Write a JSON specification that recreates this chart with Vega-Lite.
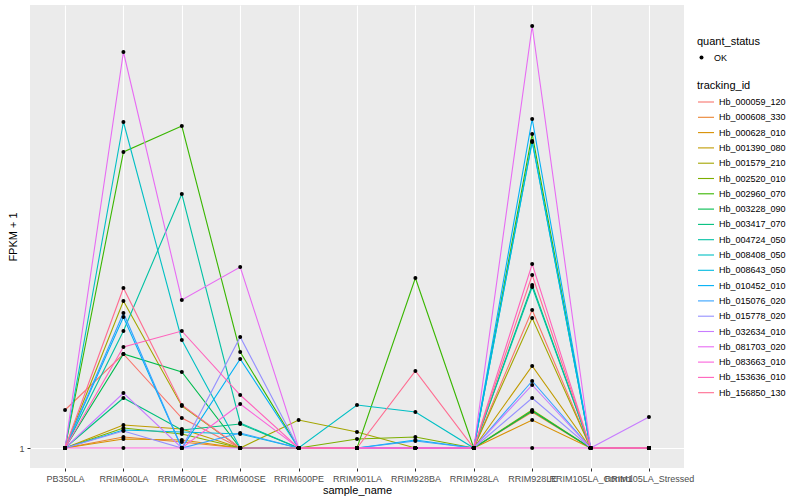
{
"$schema":"https://vega.github.io/schema/vega-lite/v6.json",
"width":654,"height":463,
"autosize":{"type":"none"},
"padding":{"left":30,"top":5,"right":116,"bottom":32},
"config":{
 "view":{"fill":"#EBEBEB","stroke":null},
 "font":"Liberation Sans",
 "axis":{"gridColor":"#FFFFFF","gridWidth":1.1,"domain":false,"tickColor":"#333333","tickSize":3,"labelColor":"#4D4D4D","labelFontSize":9,"titleFontSize":11,"titleFontWeight":"normal","titleColor":"#000000"},
 "legend":{"padding":0,"titleFontSize":11,"titleFontWeight":"normal","titleColor":"#000000","labelFontSize":9,"labelColor":"#000000"}
},
"datasets":{"expr":[
{"tracking_id":"Hb_000059_120","sample_name":"PB350LA","fpkm":1.76,"quant_status":"OK"},
{"tracking_id":"Hb_000059_120","sample_name":"RRIM600LA","fpkm":2.88,"quant_status":"OK"},
{"tracking_id":"Hb_000059_120","sample_name":"RRIM600LE","fpkm":1.6,"quant_status":"OK"},
{"tracking_id":"Hb_000059_120","sample_name":"RRIM600SE","fpkm":1,"quant_status":"OK"},
{"tracking_id":"Hb_000059_120","sample_name":"RRIM600PE","fpkm":1,"quant_status":"OK"},
{"tracking_id":"Hb_000059_120","sample_name":"RRIM901LA","fpkm":1,"quant_status":"OK"},
{"tracking_id":"Hb_000059_120","sample_name":"RRIM928BA","fpkm":1,"quant_status":"OK"},
{"tracking_id":"Hb_000059_120","sample_name":"RRIM928LA","fpkm":1,"quant_status":"OK"},
{"tracking_id":"Hb_000059_120","sample_name":"RRIM928LE","fpkm":3.76,"quant_status":"OK"},
{"tracking_id":"Hb_000059_120","sample_name":"RRIM105LA_Control","fpkm":1,"quant_status":"OK"},
{"tracking_id":"Hb_000059_120","sample_name":"RRIM105LA_Stressed","fpkm":1,"quant_status":"OK"},
{"tracking_id":"Hb_000608_330","sample_name":"PB350LA","fpkm":1,"quant_status":"OK"},
{"tracking_id":"Hb_000608_330","sample_name":"RRIM600LA","fpkm":1.22,"quant_status":"OK"},
{"tracking_id":"Hb_000608_330","sample_name":"RRIM600LE","fpkm":1.12,"quant_status":"OK"},
{"tracking_id":"Hb_000608_330","sample_name":"RRIM600SE","fpkm":1,"quant_status":"OK"},
{"tracking_id":"Hb_000608_330","sample_name":"RRIM600PE","fpkm":1,"quant_status":"OK"},
{"tracking_id":"Hb_000608_330","sample_name":"RRIM901LA","fpkm":1,"quant_status":"OK"},
{"tracking_id":"Hb_000608_330","sample_name":"RRIM928BA","fpkm":1,"quant_status":"OK"},
{"tracking_id":"Hb_000608_330","sample_name":"RRIM928LA","fpkm":1,"quant_status":"OK"},
{"tracking_id":"Hb_000608_330","sample_name":"RRIM928LE","fpkm":1.72,"quant_status":"OK"},
{"tracking_id":"Hb_000608_330","sample_name":"RRIM105LA_Control","fpkm":1,"quant_status":"OK"},
{"tracking_id":"Hb_000608_330","sample_name":"RRIM105LA_Stressed","fpkm":1,"quant_status":"OK"},
{"tracking_id":"Hb_000628_010","sample_name":"PB350LA","fpkm":1,"quant_status":"OK"},
{"tracking_id":"Hb_000628_010","sample_name":"RRIM600LA","fpkm":1.18,"quant_status":"OK"},
{"tracking_id":"Hb_000628_010","sample_name":"RRIM600LE","fpkm":1.16,"quant_status":"OK"},
{"tracking_id":"Hb_000628_010","sample_name":"RRIM600SE","fpkm":1,"quant_status":"OK"},
{"tracking_id":"Hb_000628_010","sample_name":"RRIM600PE","fpkm":1,"quant_status":"OK"},
{"tracking_id":"Hb_000628_010","sample_name":"RRIM901LA","fpkm":1,"quant_status":"OK"},
{"tracking_id":"Hb_000628_010","sample_name":"RRIM928BA","fpkm":1,"quant_status":"OK"},
{"tracking_id":"Hb_000628_010","sample_name":"RRIM928LA","fpkm":1,"quant_status":"OK"},
{"tracking_id":"Hb_000628_010","sample_name":"RRIM928LE","fpkm":1.56,"quant_status":"OK"},
{"tracking_id":"Hb_000628_010","sample_name":"RRIM105LA_Control","fpkm":1,"quant_status":"OK"},
{"tracking_id":"Hb_000628_010","sample_name":"RRIM105LA_Stressed","fpkm":1,"quant_status":"OK"},
{"tracking_id":"Hb_001390_080","sample_name":"PB350LA","fpkm":1,"quant_status":"OK"},
{"tracking_id":"Hb_001390_080","sample_name":"RRIM600LA","fpkm":1.46,"quant_status":"OK"},
{"tracking_id":"Hb_001390_080","sample_name":"RRIM600LE","fpkm":1.38,"quant_status":"OK"},
{"tracking_id":"Hb_001390_080","sample_name":"RRIM600SE","fpkm":1,"quant_status":"OK"},
{"tracking_id":"Hb_001390_080","sample_name":"RRIM600PE","fpkm":1,"quant_status":"OK"},
{"tracking_id":"Hb_001390_080","sample_name":"RRIM901LA","fpkm":1,"quant_status":"OK"},
{"tracking_id":"Hb_001390_080","sample_name":"RRIM928BA","fpkm":1,"quant_status":"OK"},
{"tracking_id":"Hb_001390_080","sample_name":"RRIM928LA","fpkm":1,"quant_status":"OK"},
{"tracking_id":"Hb_001390_080","sample_name":"RRIM928LE","fpkm":2.64,"quant_status":"OK"},
{"tracking_id":"Hb_001390_080","sample_name":"RRIM105LA_Control","fpkm":1,"quant_status":"OK"},
{"tracking_id":"Hb_001390_080","sample_name":"RRIM105LA_Stressed","fpkm":1,"quant_status":"OK"},
{"tracking_id":"Hb_001579_210","sample_name":"PB350LA","fpkm":1,"quant_status":"OK"},
{"tracking_id":"Hb_001579_210","sample_name":"RRIM600LA","fpkm":3.94,"quant_status":"OK"},
{"tracking_id":"Hb_001579_210","sample_name":"RRIM600LE","fpkm":1.84,"quant_status":"OK"},
{"tracking_id":"Hb_001579_210","sample_name":"RRIM600SE","fpkm":1,"quant_status":"OK"},
{"tracking_id":"Hb_001579_210","sample_name":"RRIM600PE","fpkm":1.56,"quant_status":"OK"},
{"tracking_id":"Hb_001579_210","sample_name":"RRIM901LA","fpkm":1.32,"quant_status":"OK"},
{"tracking_id":"Hb_001579_210","sample_name":"RRIM928BA","fpkm":1,"quant_status":"OK"},
{"tracking_id":"Hb_001579_210","sample_name":"RRIM928LA","fpkm":1,"quant_status":"OK"},
{"tracking_id":"Hb_001579_210","sample_name":"RRIM928LE","fpkm":3.6,"quant_status":"OK"},
{"tracking_id":"Hb_001579_210","sample_name":"RRIM105LA_Control","fpkm":1,"quant_status":"OK"},
{"tracking_id":"Hb_001579_210","sample_name":"RRIM105LA_Stressed","fpkm":1,"quant_status":"OK"},
{"tracking_id":"Hb_002520_010","sample_name":"PB350LA","fpkm":1,"quant_status":"OK"},
{"tracking_id":"Hb_002520_010","sample_name":"RRIM600LA","fpkm":1.4,"quant_status":"OK"},
{"tracking_id":"Hb_002520_010","sample_name":"RRIM600LE","fpkm":1.28,"quant_status":"OK"},
{"tracking_id":"Hb_002520_010","sample_name":"RRIM600SE","fpkm":1,"quant_status":"OK"},
{"tracking_id":"Hb_002520_010","sample_name":"RRIM600PE","fpkm":1,"quant_status":"OK"},
{"tracking_id":"Hb_002520_010","sample_name":"RRIM901LA","fpkm":1.18,"quant_status":"OK"},
{"tracking_id":"Hb_002520_010","sample_name":"RRIM928BA","fpkm":1.22,"quant_status":"OK"},
{"tracking_id":"Hb_002520_010","sample_name":"RRIM928LA","fpkm":1,"quant_status":"OK"},
{"tracking_id":"Hb_002520_010","sample_name":"RRIM928LE","fpkm":1.76,"quant_status":"OK"},
{"tracking_id":"Hb_002520_010","sample_name":"RRIM105LA_Control","fpkm":1,"quant_status":"OK"},
{"tracking_id":"Hb_002520_010","sample_name":"RRIM105LA_Stressed","fpkm":1,"quant_status":"OK"},
{"tracking_id":"Hb_002960_070","sample_name":"PB350LA","fpkm":1,"quant_status":"OK"},
{"tracking_id":"Hb_002960_070","sample_name":"RRIM600LA","fpkm":6.92,"quant_status":"OK"},
{"tracking_id":"Hb_002960_070","sample_name":"RRIM600LE","fpkm":7.44,"quant_status":"OK"},
{"tracking_id":"Hb_002960_070","sample_name":"RRIM600SE","fpkm":2.92,"quant_status":"OK"},
{"tracking_id":"Hb_002960_070","sample_name":"RRIM600PE","fpkm":1,"quant_status":"OK"},
{"tracking_id":"Hb_002960_070","sample_name":"RRIM901LA","fpkm":1,"quant_status":"OK"},
{"tracking_id":"Hb_002960_070","sample_name":"RRIM928BA","fpkm":4.4,"quant_status":"OK"},
{"tracking_id":"Hb_002960_070","sample_name":"RRIM928LA","fpkm":1,"quant_status":"OK"},
{"tracking_id":"Hb_002960_070","sample_name":"RRIM928LE","fpkm":7.28,"quant_status":"OK"},
{"tracking_id":"Hb_002960_070","sample_name":"RRIM105LA_Control","fpkm":1,"quant_status":"OK"},
{"tracking_id":"Hb_002960_070","sample_name":"RRIM105LA_Stressed","fpkm":1,"quant_status":"OK"},
{"tracking_id":"Hb_003228_090","sample_name":"PB350LA","fpkm":1,"quant_status":"OK"},
{"tracking_id":"Hb_003228_090","sample_name":"RRIM600LA","fpkm":2.88,"quant_status":"OK"},
{"tracking_id":"Hb_003228_090","sample_name":"RRIM600LE","fpkm":2.52,"quant_status":"OK"},
{"tracking_id":"Hb_003228_090","sample_name":"RRIM600SE","fpkm":1,"quant_status":"OK"},
{"tracking_id":"Hb_003228_090","sample_name":"RRIM600PE","fpkm":1,"quant_status":"OK"},
{"tracking_id":"Hb_003228_090","sample_name":"RRIM901LA","fpkm":1,"quant_status":"OK"},
{"tracking_id":"Hb_003228_090","sample_name":"RRIM928BA","fpkm":1,"quant_status":"OK"},
{"tracking_id":"Hb_003228_090","sample_name":"RRIM928LA","fpkm":1,"quant_status":"OK"},
{"tracking_id":"Hb_003228_090","sample_name":"RRIM928LE","fpkm":1.74,"quant_status":"OK"},
{"tracking_id":"Hb_003228_090","sample_name":"RRIM105LA_Control","fpkm":1,"quant_status":"OK"},
{"tracking_id":"Hb_003228_090","sample_name":"RRIM105LA_Stressed","fpkm":1,"quant_status":"OK"},
{"tracking_id":"Hb_003417_070","sample_name":"PB350LA","fpkm":1,"quant_status":"OK"},
{"tracking_id":"Hb_003417_070","sample_name":"RRIM600LA","fpkm":2.0,"quant_status":"OK"},
{"tracking_id":"Hb_003417_070","sample_name":"RRIM600LE","fpkm":1.36,"quant_status":"OK"},
{"tracking_id":"Hb_003417_070","sample_name":"RRIM600SE","fpkm":1.48,"quant_status":"OK"},
{"tracking_id":"Hb_003417_070","sample_name":"RRIM600PE","fpkm":1,"quant_status":"OK"},
{"tracking_id":"Hb_003417_070","sample_name":"RRIM901LA","fpkm":1,"quant_status":"OK"},
{"tracking_id":"Hb_003417_070","sample_name":"RRIM928BA","fpkm":1,"quant_status":"OK"},
{"tracking_id":"Hb_003417_070","sample_name":"RRIM928LA","fpkm":1,"quant_status":"OK"},
{"tracking_id":"Hb_003417_070","sample_name":"RRIM928LE","fpkm":4.26,"quant_status":"OK"},
{"tracking_id":"Hb_003417_070","sample_name":"RRIM105LA_Control","fpkm":1,"quant_status":"OK"},
{"tracking_id":"Hb_003417_070","sample_name":"RRIM105LA_Stressed","fpkm":1,"quant_status":"OK"},
{"tracking_id":"Hb_004724_050","sample_name":"PB350LA","fpkm":1,"quant_status":"OK"},
{"tracking_id":"Hb_004724_050","sample_name":"RRIM600LA","fpkm":3.34,"quant_status":"OK"},
{"tracking_id":"Hb_004724_050","sample_name":"RRIM600LE","fpkm":6.08,"quant_status":"OK"},
{"tracking_id":"Hb_004724_050","sample_name":"RRIM600SE","fpkm":1.5,"quant_status":"OK"},
{"tracking_id":"Hb_004724_050","sample_name":"RRIM600PE","fpkm":1,"quant_status":"OK"},
{"tracking_id":"Hb_004724_050","sample_name":"RRIM901LA","fpkm":1,"quant_status":"OK"},
{"tracking_id":"Hb_004724_050","sample_name":"RRIM928BA","fpkm":1,"quant_status":"OK"},
{"tracking_id":"Hb_004724_050","sample_name":"RRIM928LA","fpkm":1,"quant_status":"OK"},
{"tracking_id":"Hb_004724_050","sample_name":"RRIM928LE","fpkm":4.22,"quant_status":"OK"},
{"tracking_id":"Hb_004724_050","sample_name":"RRIM105LA_Control","fpkm":1,"quant_status":"OK"},
{"tracking_id":"Hb_004724_050","sample_name":"RRIM105LA_Stressed","fpkm":1,"quant_status":"OK"},
{"tracking_id":"Hb_008408_050","sample_name":"PB350LA","fpkm":1,"quant_status":"OK"},
{"tracking_id":"Hb_008408_050","sample_name":"RRIM600LA","fpkm":7.52,"quant_status":"OK"},
{"tracking_id":"Hb_008408_050","sample_name":"RRIM600LE","fpkm":3.16,"quant_status":"OK"},
{"tracking_id":"Hb_008408_050","sample_name":"RRIM600SE","fpkm":1,"quant_status":"OK"},
{"tracking_id":"Hb_008408_050","sample_name":"RRIM600PE","fpkm":1,"quant_status":"OK"},
{"tracking_id":"Hb_008408_050","sample_name":"RRIM901LA","fpkm":1.86,"quant_status":"OK"},
{"tracking_id":"Hb_008408_050","sample_name":"RRIM928BA","fpkm":1.72,"quant_status":"OK"},
{"tracking_id":"Hb_008408_050","sample_name":"RRIM928LA","fpkm":1,"quant_status":"OK"},
{"tracking_id":"Hb_008408_050","sample_name":"RRIM928LE","fpkm":7.14,"quant_status":"OK"},
{"tracking_id":"Hb_008408_050","sample_name":"RRIM105LA_Control","fpkm":1,"quant_status":"OK"},
{"tracking_id":"Hb_008408_050","sample_name":"RRIM105LA_Stressed","fpkm":1,"quant_status":"OK"},
{"tracking_id":"Hb_008643_050","sample_name":"PB350LA","fpkm":1,"quant_status":"OK"},
{"tracking_id":"Hb_008643_050","sample_name":"RRIM600LA","fpkm":1.36,"quant_status":"OK"},
{"tracking_id":"Hb_008643_050","sample_name":"RRIM600LE","fpkm":1.32,"quant_status":"OK"},
{"tracking_id":"Hb_008643_050","sample_name":"RRIM600SE","fpkm":1.28,"quant_status":"OK"},
{"tracking_id":"Hb_008643_050","sample_name":"RRIM600PE","fpkm":1,"quant_status":"OK"},
{"tracking_id":"Hb_008643_050","sample_name":"RRIM901LA","fpkm":1,"quant_status":"OK"},
{"tracking_id":"Hb_008643_050","sample_name":"RRIM928BA","fpkm":1,"quant_status":"OK"},
{"tracking_id":"Hb_008643_050","sample_name":"RRIM928LA","fpkm":1,"quant_status":"OK"},
{"tracking_id":"Hb_008643_050","sample_name":"RRIM928LE","fpkm":7.12,"quant_status":"OK"},
{"tracking_id":"Hb_008643_050","sample_name":"RRIM105LA_Control","fpkm":1,"quant_status":"OK"},
{"tracking_id":"Hb_008643_050","sample_name":"RRIM105LA_Stressed","fpkm":1,"quant_status":"OK"},
{"tracking_id":"Hb_010452_010","sample_name":"PB350LA","fpkm":1,"quant_status":"OK"},
{"tracking_id":"Hb_010452_010","sample_name":"RRIM600LA","fpkm":3.62,"quant_status":"OK"},
{"tracking_id":"Hb_010452_010","sample_name":"RRIM600LE","fpkm":1,"quant_status":"OK"},
{"tracking_id":"Hb_010452_010","sample_name":"RRIM600SE","fpkm":2.78,"quant_status":"OK"},
{"tracking_id":"Hb_010452_010","sample_name":"RRIM600PE","fpkm":1,"quant_status":"OK"},
{"tracking_id":"Hb_010452_010","sample_name":"RRIM901LA","fpkm":1,"quant_status":"OK"},
{"tracking_id":"Hb_010452_010","sample_name":"RRIM928BA","fpkm":1.16,"quant_status":"OK"},
{"tracking_id":"Hb_010452_010","sample_name":"RRIM928LA","fpkm":1,"quant_status":"OK"},
{"tracking_id":"Hb_010452_010","sample_name":"RRIM928LE","fpkm":7.58,"quant_status":"OK"},
{"tracking_id":"Hb_010452_010","sample_name":"RRIM105LA_Control","fpkm":1,"quant_status":"OK"},
{"tracking_id":"Hb_010452_010","sample_name":"RRIM105LA_Stressed","fpkm":1,"quant_status":"OK"},
{"tracking_id":"Hb_015076_020","sample_name":"PB350LA","fpkm":1,"quant_status":"OK"},
{"tracking_id":"Hb_015076_020","sample_name":"RRIM600LA","fpkm":3.7,"quant_status":"OK"},
{"tracking_id":"Hb_015076_020","sample_name":"RRIM600LE","fpkm":1,"quant_status":"OK"},
{"tracking_id":"Hb_015076_020","sample_name":"RRIM600SE","fpkm":1.3,"quant_status":"OK"},
{"tracking_id":"Hb_015076_020","sample_name":"RRIM600PE","fpkm":1,"quant_status":"OK"},
{"tracking_id":"Hb_015076_020","sample_name":"RRIM901LA","fpkm":1,"quant_status":"OK"},
{"tracking_id":"Hb_015076_020","sample_name":"RRIM928BA","fpkm":1.14,"quant_status":"OK"},
{"tracking_id":"Hb_015076_020","sample_name":"RRIM928LA","fpkm":1,"quant_status":"OK"},
{"tracking_id":"Hb_015076_020","sample_name":"RRIM928LE","fpkm":2.34,"quant_status":"OK"},
{"tracking_id":"Hb_015076_020","sample_name":"RRIM105LA_Control","fpkm":1,"quant_status":"OK"},
{"tracking_id":"Hb_015076_020","sample_name":"RRIM105LA_Stressed","fpkm":1,"quant_status":"OK"},
{"tracking_id":"Hb_015778_020","sample_name":"PB350LA","fpkm":1,"quant_status":"OK"},
{"tracking_id":"Hb_015778_020","sample_name":"RRIM600LA","fpkm":1.34,"quant_status":"OK"},
{"tracking_id":"Hb_015778_020","sample_name":"RRIM600LE","fpkm":1,"quant_status":"OK"},
{"tracking_id":"Hb_015778_020","sample_name":"RRIM600SE","fpkm":3.22,"quant_status":"OK"},
{"tracking_id":"Hb_015778_020","sample_name":"RRIM600PE","fpkm":1,"quant_status":"OK"},
{"tracking_id":"Hb_015778_020","sample_name":"RRIM901LA","fpkm":1,"quant_status":"OK"},
{"tracking_id":"Hb_015778_020","sample_name":"RRIM928BA","fpkm":1,"quant_status":"OK"},
{"tracking_id":"Hb_015778_020","sample_name":"RRIM928LA","fpkm":1,"quant_status":"OK"},
{"tracking_id":"Hb_015778_020","sample_name":"RRIM928LE","fpkm":2.0,"quant_status":"OK"},
{"tracking_id":"Hb_015778_020","sample_name":"RRIM105LA_Control","fpkm":1,"quant_status":"OK"},
{"tracking_id":"Hb_015778_020","sample_name":"RRIM105LA_Stressed","fpkm":1,"quant_status":"OK"},
{"tracking_id":"Hb_032634_010","sample_name":"PB350LA","fpkm":1,"quant_status":"OK"},
{"tracking_id":"Hb_032634_010","sample_name":"RRIM600LA","fpkm":2.1,"quant_status":"OK"},
{"tracking_id":"Hb_032634_010","sample_name":"RRIM600LE","fpkm":1,"quant_status":"OK"},
{"tracking_id":"Hb_032634_010","sample_name":"RRIM600SE","fpkm":1,"quant_status":"OK"},
{"tracking_id":"Hb_032634_010","sample_name":"RRIM600PE","fpkm":1,"quant_status":"OK"},
{"tracking_id":"Hb_032634_010","sample_name":"RRIM901LA","fpkm":1,"quant_status":"OK"},
{"tracking_id":"Hb_032634_010","sample_name":"RRIM928BA","fpkm":1,"quant_status":"OK"},
{"tracking_id":"Hb_032634_010","sample_name":"RRIM928LA","fpkm":1,"quant_status":"OK"},
{"tracking_id":"Hb_032634_010","sample_name":"RRIM928LE","fpkm":2.26,"quant_status":"OK"},
{"tracking_id":"Hb_032634_010","sample_name":"RRIM105LA_Control","fpkm":1,"quant_status":"OK"},
{"tracking_id":"Hb_032634_010","sample_name":"RRIM105LA_Stressed","fpkm":1.62,"quant_status":"OK"},
{"tracking_id":"Hb_081703_020","sample_name":"PB350LA","fpkm":1,"quant_status":"OK"},
{"tracking_id":"Hb_081703_020","sample_name":"RRIM600LA","fpkm":8.92,"quant_status":"OK"},
{"tracking_id":"Hb_081703_020","sample_name":"RRIM600LE","fpkm":3.96,"quant_status":"OK"},
{"tracking_id":"Hb_081703_020","sample_name":"RRIM600SE","fpkm":4.62,"quant_status":"OK"},
{"tracking_id":"Hb_081703_020","sample_name":"RRIM600PE","fpkm":1,"quant_status":"OK"},
{"tracking_id":"Hb_081703_020","sample_name":"RRIM901LA","fpkm":1,"quant_status":"OK"},
{"tracking_id":"Hb_081703_020","sample_name":"RRIM928BA","fpkm":1,"quant_status":"OK"},
{"tracking_id":"Hb_081703_020","sample_name":"RRIM928LA","fpkm":1,"quant_status":"OK"},
{"tracking_id":"Hb_081703_020","sample_name":"RRIM928LE","fpkm":9.44,"quant_status":"OK"},
{"tracking_id":"Hb_081703_020","sample_name":"RRIM105LA_Control","fpkm":1,"quant_status":"OK"},
{"tracking_id":"Hb_081703_020","sample_name":"RRIM105LA_Stressed","fpkm":1,"quant_status":"OK"},
{"tracking_id":"Hb_083663_010","sample_name":"PB350LA","fpkm":1,"quant_status":"OK"},
{"tracking_id":"Hb_083663_010","sample_name":"RRIM600LA","fpkm":1,"quant_status":"OK"},
{"tracking_id":"Hb_083663_010","sample_name":"RRIM600LE","fpkm":1,"quant_status":"OK"},
{"tracking_id":"Hb_083663_010","sample_name":"RRIM600SE","fpkm":1.88,"quant_status":"OK"},
{"tracking_id":"Hb_083663_010","sample_name":"RRIM600PE","fpkm":1,"quant_status":"OK"},
{"tracking_id":"Hb_083663_010","sample_name":"RRIM901LA","fpkm":1,"quant_status":"OK"},
{"tracking_id":"Hb_083663_010","sample_name":"RRIM928BA","fpkm":1,"quant_status":"OK"},
{"tracking_id":"Hb_083663_010","sample_name":"RRIM928LA","fpkm":1,"quant_status":"OK"},
{"tracking_id":"Hb_083663_010","sample_name":"RRIM928LE","fpkm":1,"quant_status":"OK"},
{"tracking_id":"Hb_083663_010","sample_name":"RRIM105LA_Control","fpkm":1,"quant_status":"OK"},
{"tracking_id":"Hb_083663_010","sample_name":"RRIM105LA_Stressed","fpkm":1,"quant_status":"OK"},
{"tracking_id":"Hb_153636_010","sample_name":"PB350LA","fpkm":1,"quant_status":"OK"},
{"tracking_id":"Hb_153636_010","sample_name":"RRIM600LA","fpkm":3.02,"quant_status":"OK"},
{"tracking_id":"Hb_153636_010","sample_name":"RRIM600LE","fpkm":3.34,"quant_status":"OK"},
{"tracking_id":"Hb_153636_010","sample_name":"RRIM600SE","fpkm":2.06,"quant_status":"OK"},
{"tracking_id":"Hb_153636_010","sample_name":"RRIM600PE","fpkm":1,"quant_status":"OK"},
{"tracking_id":"Hb_153636_010","sample_name":"RRIM901LA","fpkm":1,"quant_status":"OK"},
{"tracking_id":"Hb_153636_010","sample_name":"RRIM928BA","fpkm":1,"quant_status":"OK"},
{"tracking_id":"Hb_153636_010","sample_name":"RRIM928LA","fpkm":1,"quant_status":"OK"},
{"tracking_id":"Hb_153636_010","sample_name":"RRIM928LE","fpkm":4.68,"quant_status":"OK"},
{"tracking_id":"Hb_153636_010","sample_name":"RRIM105LA_Control","fpkm":1,"quant_status":"OK"},
{"tracking_id":"Hb_153636_010","sample_name":"RRIM105LA_Stressed","fpkm":1,"quant_status":"OK"},
{"tracking_id":"Hb_156850_130","sample_name":"PB350LA","fpkm":1,"quant_status":"OK"},
{"tracking_id":"Hb_156850_130","sample_name":"RRIM600LA","fpkm":4.2,"quant_status":"OK"},
{"tracking_id":"Hb_156850_130","sample_name":"RRIM600LE","fpkm":1.86,"quant_status":"OK"},
{"tracking_id":"Hb_156850_130","sample_name":"RRIM600SE","fpkm":1,"quant_status":"OK"},
{"tracking_id":"Hb_156850_130","sample_name":"RRIM600PE","fpkm":1,"quant_status":"OK"},
{"tracking_id":"Hb_156850_130","sample_name":"RRIM901LA","fpkm":1,"quant_status":"OK"},
{"tracking_id":"Hb_156850_130","sample_name":"RRIM928BA","fpkm":2.54,"quant_status":"OK"},
{"tracking_id":"Hb_156850_130","sample_name":"RRIM928LA","fpkm":1,"quant_status":"OK"},
{"tracking_id":"Hb_156850_130","sample_name":"RRIM928LE","fpkm":4.46,"quant_status":"OK"},
{"tracking_id":"Hb_156850_130","sample_name":"RRIM105LA_Control","fpkm":1,"quant_status":"OK"},
{"tracking_id":"Hb_156850_130","sample_name":"RRIM105LA_Stressed","fpkm":1,"quant_status":"OK"}
]},
"data":{"name":"expr"},
"encoding":{
 "x":{"field":"sample_name","type":"ordinal","title":"sample_name",
  "scale":{"type":"point","padding":0.6,"domain":["PB350LA","RRIM600LA","RRIM600LE","RRIM600SE","RRIM600PE","RRIM901LA","RRIM928BA","RRIM928LA","RRIM928LE","RRIM105LA_Control","RRIM105LA_Stressed"]},
  "axis":{"labelAngle":0,"labelPadding":3,"titlePadding":1,"grid":true,"labelOverlap":false}},
 "y":{"field":"fpkm","type":"quantitative","title":"FPKM + 1",
  "scale":{"domain":[0.6,9.86],"nice":false,"zero":false},
  "axis":{"values":[1],"grid":true,"labelPadding":3,"titlePadding":0}}
},
"layer":[
 {"mark":{"type":"line","strokeWidth":1.1},
  "encoding":{"color":{"field":"tracking_id","type":"nominal","title":"tracking_id",
   "scale":{"range":["#F8766D","#EA8331","#D89000","#C09B00","#A3A500","#7CAE00","#39B600","#00BB4E","#00BF7D","#00C1A3","#00BFC4","#00BAE0","#00B0F6","#35A2FF","#9590FF","#C77CFF","#E76BF3","#FA62DB","#FF62BC","#FF6C91"]},
   "legend":{"orient":"none","legendX":667,"legendY":75,"symbolType":"stroke","symbolSize":256,"symbolStrokeWidth":1.1,"rowPadding":1.3,"labelOffset":4,"titlePadding":2}}}},
 {"mark":{"type":"point","filled":true,"color":"#000000","size":16,"opacity":1},
  "encoding":{"detail":{"field":"tracking_id"},"shape":{"field":"quant_status","type":"nominal","title":"quant_status","scale":{"range":["circle"]},
   "legend":{"orient":"none","legendX":667,"legendY":31,"symbolSize":16,"symbolFillColor":"#000000","labelOffset":8,"titlePadding":6}}}}
]
}
